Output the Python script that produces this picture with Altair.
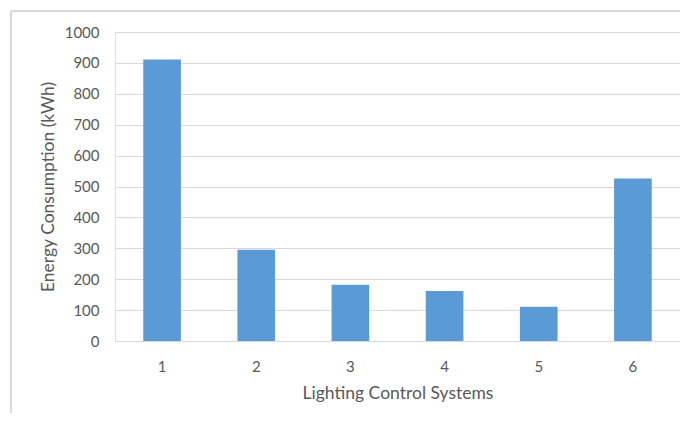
import altair as alt
import pandas as pd

systems = ["1", "2", "3", "4", "5", "6"]
energy = [911, 295, 182, 162, 111, 526]

df = pd.DataFrame({"system": systems, "energy": energy})

FONT = "Lato"
TXT = "#595959"

bars = alt.Chart(df).mark_bar(color="#5B9BD5").encode(
    x=alt.X("system:N", sort=systems,
            scale=alt.Scale(paddingInner=0.6, paddingOuter=0.3),
            axis=alt.Axis(title="Lighting Control Systems", labelAngle=0,
                          domain=False, ticks=False, grid=False,
                          labelPadding=18, titlePadding=10,
                          labelFont=FONT, titleFont=FONT,
                          labelFontSize=15, titleFontSize=17.5,
                          labelColor=TXT, titleColor=TXT,
                          titleFontWeight="normal")),
    y=alt.Y("energy:Q", scale=alt.Scale(domain=[0, 1000], nice=False),
            axis=alt.Axis(title="Energy Consumption (kWh)", values=list(range(0, 1001, 100)),
                          format="d",
                          domain=False, ticks=False, grid=True,
                          gridColor="#D9D9D9", gridWidth=1,
                          labelPadding=16, titlePadding=7,
                          labelFont=FONT, titleFont=FONT,
                          labelFontSize=15, titleFontSize=17.5,
                          labelColor=TXT, titleColor=TXT,
                          titleFontWeight="normal")),
)

border = alt.Chart(df).mark_rect(fill=None, stroke="#D9D9D9", strokeWidth=1).encode(
    x=alt.value(-104), x2=alt.value(620), y=alt.value(-21), y2=alt.value(440)
)

chart = alt.layer(border, bars).properties(
    width=565, height=309,
    padding={"left": 107, "top": 24, "right": 0, "bottom": 72},
    autosize=alt.AutoSizeParams(type="none"),
).configure_view(stroke=None).configure(background="white")

chart.save("out.html", embed_options={"renderer": "svg", "actions": False})
